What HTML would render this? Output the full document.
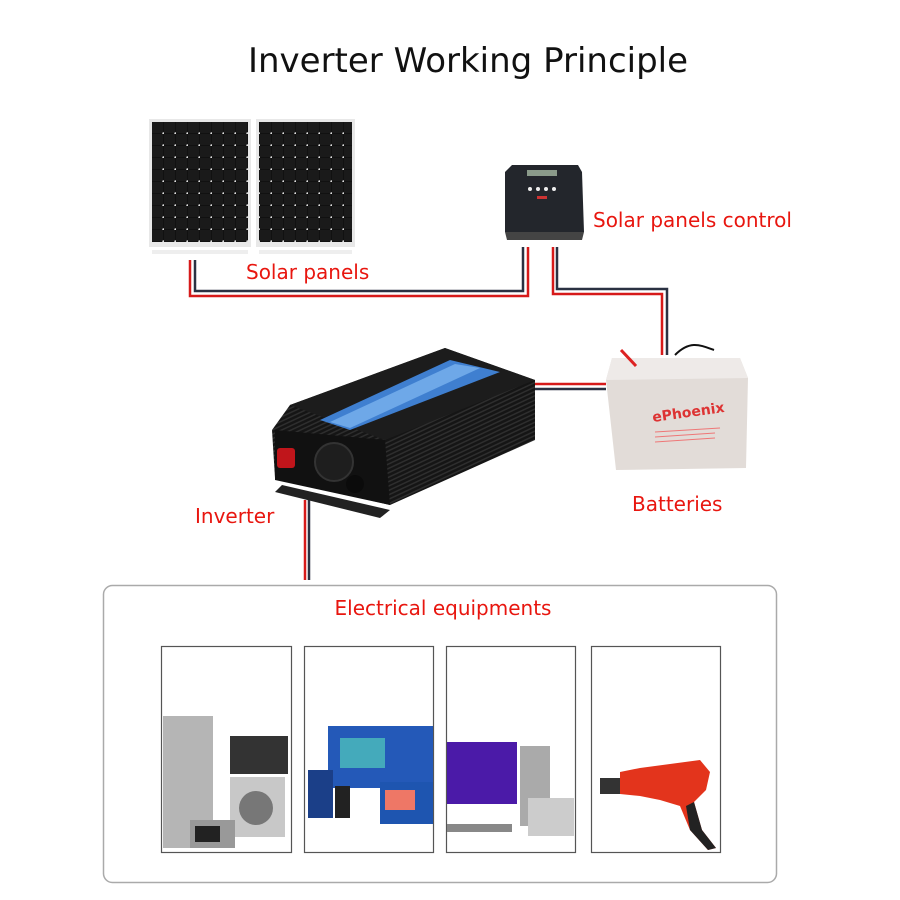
<!DOCTYPE html>
<html><head><meta charset="utf-8"><style>
body{margin:0;background:#fff;}
svg{display:block;font-family:"DejaVu Sans","Liberation Sans",sans-serif;}
</style></head><body>
<svg width="900" height="900" viewBox="0 0 900 900" xmlns="http://www.w3.org/2000/svg">
<defs>
<pattern id="cells" x="152" y="122" width="12" height="12" patternUnits="userSpaceOnUse">
<rect width="12" height="12" fill="#111"/><rect x="0" y="0" width="11" height="11" fill="#1a1a1a"/><circle cx="11.5" cy="11.5" r="1.2" fill="#ddd"/>
</pattern>
<pattern id="fins" width="4" height="4" patternUnits="userSpaceOnUse" patternTransform="rotate(-25)">
<rect width="4" height="4" fill="#151515"/><rect width="4" height="1.5" fill="#2e2e2e"/>
</pattern>
</defs>
<rect width="900" height="900" fill="#fff"/>
<text x="468" y="72" font-size="34" text-anchor="middle" fill="#111">Inverter Working Principle</text>

<!-- solar panels -->
<rect x="149" y="119" width="102" height="128" fill="#e8e8e8"/>
<rect x="152" y="122" width="96" height="120" fill="url(#cells)"/>
<rect x="256" y="119" width="99" height="128" fill="#e8e8e8"/>
<rect x="259" y="122" width="93" height="120" fill="url(#cells)"/>
<rect x="152" y="250" width="96" height="4" fill="#eee"/>
<rect x="259" y="250" width="93" height="4" fill="#eee"/>

<!-- wires -->
<g fill="none" stroke-width="2.5">
<polyline points="195,260 195,291 523,291 523,247" stroke="#2a3142"/>
<polyline points="190,260 190,296 528,296 528,247" stroke="#d61a1a"/>
<polyline points="557,247 557,289 667,289 667,355" stroke="#2a3142"/>
<polyline points="553,247 553,294 662,294 662,355" stroke="#d61a1a"/>
<line x1="535" y1="384" x2="606" y2="384" stroke="#d61a1a"/>
<line x1="535" y1="389" x2="606" y2="389" stroke="#2a3142"/>
<line x1="305" y1="500" x2="305" y2="580" stroke="#d61a1a"/>
<line x1="309" y1="500" x2="309" y2="580" stroke="#2a3142"/>
</g>

<!-- controller -->
<path d="M512,165 L578,165 L582,172 L584,232 L505,232 L505,172 Z" fill="#23262c"/>
<rect x="527" y="170" width="30" height="6" fill="#8a9a8a"/>
<circle cx="530" cy="189" r="2" fill="#eee"/><circle cx="538" cy="189" r="2" fill="#eee"/><circle cx="546" cy="189" r="2" fill="#eee"/><circle cx="554" cy="189" r="2" fill="#eee"/>
<rect x="537" y="196" width="10" height="3" fill="#c33"/>
<path d="M505,232 L584,232 L582,240 L507,240 Z" fill="#444"/>

<!-- battery -->
<path d="M612,358 L740,358 L748,378 L746,468 L616,470 L606,380 Z" fill="#e2dcd8"/>
<path d="M612,358 L740,358 L748,378 L606,380 Z" fill="#eeeae8"/>
<line x1="621" y1="350" x2="636" y2="366" stroke="#d22" stroke-width="3"/>
<path d="M675,355 C690,340 700,345 714,350" stroke="#111" stroke-width="2" fill="none"/>
<text x="653" y="422" font-size="14" font-weight="bold" fill="#d33" transform="rotate(-8 653 422)">ePhoenix</text>
<g stroke="#e77" stroke-width="1"><line x1="655" y1="432" x2="720" y2="428"/><line x1="655" y1="437" x2="715" y2="433"/><line x1="655" y1="442" x2="715" y2="438"/></g>

<!-- inverter -->
<path d="M290,405 L445,348 L535,380 L535,440 L390,505 L275,478 L272,430 Z" fill="url(#fins)"/>
<path d="M290,405 L445,348 L535,380 L385,440 Z" fill="#1c1c1c"/>
<path d="M320,420 L450,360 L500,372 L350,430 Z" fill="#3f7fd0"/>
<path d="M330,422 L455,364 L480,368 L350,428 Z" fill="#6ea8e8"/>
<path d="M275,430 L385,440 L390,505 L275,480 Z" fill="#111"/>
<circle cx="334" cy="462" r="19" fill="#1e1e1e" stroke="#333" stroke-width="2"/>
<rect x="277" y="448" width="18" height="20" rx="3" fill="#c0151b"/>
<circle cx="355" cy="484" r="9" fill="#0b0b0b"/>
<path d="M282,485 L390,510 L380,518 L275,492 Z" fill="#222"/>

<!-- labels -->
<g fill="#e8160f" font-size="20">
<text x="246" y="279">Solar panels</text>
<text x="593" y="227">Solar panels control</text>
<text x="195" y="523">Inverter</text>
<text x="632" y="511">Batteries</text>
<text x="443" y="615" text-anchor="middle">Electrical equipments</text>
</g>

<!-- equipment box -->
<rect x="103.5" y="585.5" width="673" height="297" rx="9" fill="none" stroke="#aaa" stroke-width="1.5"/>
<g fill="#fff" stroke="#555" stroke-width="1.2">
<rect x="161.5" y="646.5" width="130" height="206"/>
<rect x="304.5" y="646.5" width="129" height="206"/>
<rect x="446.5" y="646.5" width="129" height="206"/>
<rect x="591.5" y="646.5" width="129" height="206"/>
</g>
<!-- appliances -->
<rect x="163" y="716" width="50" height="132" fill="#b5b5b5"/>
<rect x="230" y="736" width="58" height="38" fill="#333"/>
<rect x="230" y="777" width="55" height="60" fill="#c8c8c8"/>
<circle cx="256" cy="808" r="17" fill="#777"/>
<rect x="190" y="820" width="45" height="28" fill="#999"/>
<rect x="195" y="826" width="25" height="16" fill="#222"/>
<!-- devices -->
<rect x="328" y="726" width="105" height="62" fill="#2459b8"/>
<rect x="340" y="738" width="45" height="30" fill="#4ab"/>
<rect x="308" y="770" width="25" height="48" fill="#1b3f88"/>
<rect x="335" y="786" width="15" height="32" fill="#222"/>
<rect x="380" y="782" width="53" height="42" fill="#1e55b0"/>
<rect x="385" y="790" width="30" height="20" fill="#e76"/>
<!-- computer -->
<rect x="447" y="742" width="70" height="62" fill="#4b1aa8"/>
<rect x="520" y="746" width="30" height="80" fill="#aaa"/>
<rect x="528" y="798" width="46" height="38" fill="#ccc"/>
<rect x="447" y="824" width="65" height="8" fill="#888"/>
<!-- drill -->
<rect x="600" y="778" width="22" height="16" fill="#333"/>
<path d="M620,772 L640,768 L700,760 L710,772 L706,790 L694,802 L702,830 L716,848 L708,850 L690,830 L680,806 L660,800 L640,796 L620,794 Z" fill="#e3341c"/>
<path d="M686,806 L694,802 L702,830 L716,848 L708,850 L690,830 Z" fill="#222"/>
</svg>
</body></html>
